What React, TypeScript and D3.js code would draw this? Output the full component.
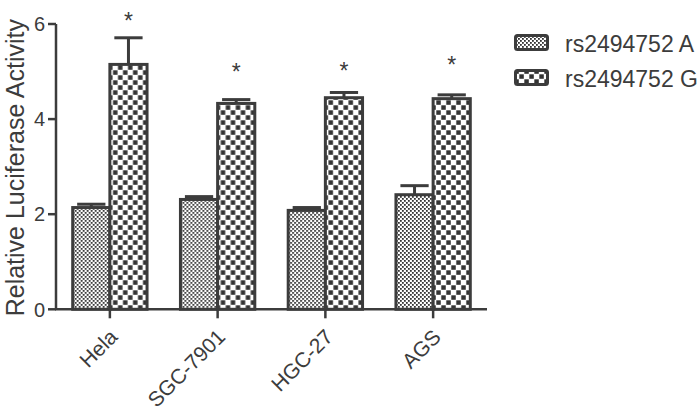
import React from "react";
import * as d3 from "d3";

const categories = ["Hela", "SGC-7901", "HGC-27", "AGS"];
const seriesNames = ["rs2494752 A", "rs2494752 G"];
const meanA = [2.14, 2.31, 2.08, 2.41];
const errA = [0.07, 0.06, 0.06, 0.19];
const meanG = [5.15, 4.33, 4.45, 4.43];
const errG = [0.56, 0.08, 0.11, 0.08];
const starLevels = [5.9, 4.83, 4.85, 4.96];
const yTicks = [0, 2, 4, 6];
const yLabel = "Relative Luciferase Activity";

const INK = "#3c3c3c";
const FONT = "'Liberation Sans', Arial, Helvetica, sans-serif";

export default function App() {
  const W = 700, H = 411;
  const x0 = d3.scaleBand<string>().domain(categories).range([56, 487]).paddingInner(0.31).paddingOuter(0.155);
  const x1 = d3.scaleBand<string>().domain(seriesNames).range([0, x0.bandwidth()]);
  const y = d3.scaleLinear().domain([0, 6]).range([309.3, 24]);
  const series = [
    { name: seriesNames[0], mean: meanA, err: errA, fill: "url(#patA)" },
    { name: seriesNames[1], mean: meanG, err: errG, fill: "url(#patG)" },
  ];
  const capW = x1.bandwidth() * 0.76;

  return (
    <svg width={W} height={H} style={{ position: "absolute", left: 0, top: 0, background: "#fff" }} fontFamily={FONT}>
      <defs>
        <pattern id="patA" patternUnits="userSpaceOnUse" width={4} height={4}>
          <rect width={4} height={4} fill="#fff" />
          <rect x={0} y={0} width={1.8} height={1.8} fill="#333" />
          <rect x={2} y={2} width={1.8} height={1.8} fill="#333" />
        </pattern>
        <pattern id="patG" patternUnits="userSpaceOnUse" width={10} height={10}>
          <rect width={10} height={10} fill="#fff" />
          <rect x={0.3} y={0.3} width={4.5} height={4.5} fill="#333" />
          <rect x={5.3} y={5.3} width={4.5} height={4.5} fill="#333" />
        </pattern>
      </defs>

      {/* bars */}
      {categories.map((c, i) => (
        <g key={c} transform={`translate(${x0(c)},0)`}>
          {series.map((s) => {
            const bx = x1(s.name)!;
            const bw = x1.bandwidth();
            const top = y(s.mean[i]);
            const cap = y(s.mean[i] + s.err[i]);
            const cx = bx + bw / 2;
            return (
              <g key={s.name}>
                <line x1={cx} x2={cx} y1={top} y2={cap} stroke={INK} strokeWidth={3} />
                <line x1={cx - capW / 2} x2={cx + capW / 2} y1={cap} y2={cap} stroke={INK} strokeWidth={3} />
                <rect x={bx} y={top} width={bw} height={y(0) - top} fill={s.fill} stroke={INK} strokeWidth={3} />
              </g>
            );
          })}
          <text
            x={x1(seriesNames[1])! + x1.bandwidth() / 2}
            y={y(starLevels[i])}
            textAnchor="middle"
            fontSize={23}
            fill={INK}
          >
            *
          </text>
        </g>
      ))}

      {/* y axis */}
      <line x1={56} x2={56} y1={y(6)} y2={y(0)} stroke={INK} strokeWidth={2.5} />
      {yTicks.map((t) => (
        <g key={t}>
          <line x1={48} x2={56} y1={y(t)} y2={y(t)} stroke={INK} strokeWidth={2.5} />
          <text x={45} y={y(t)} dy="0.36em" textAnchor="end" fontSize={20} fill={INK}>
            {t}
          </text>
        </g>
      ))}
      <text
        transform={`translate(24,${(y(0) + y(6)) / 2 + 1}) rotate(-90)`}
        textAnchor="middle"
        fontSize={25}
        fill={INK}
      >
        {yLabel}
      </text>

      {/* x axis */}
      <line x1={55} x2={487} y1={y(0)} y2={y(0)} stroke={INK} strokeWidth={2.5} />
      {categories.map((c) => {
        const cx = x0(c)! + x0.bandwidth() / 2;
        return (
          <g key={c}>
            <line x1={cx} x2={cx} y1={y(0)} y2={y(0) + 9} stroke={INK} strokeWidth={2.5} />
            <text
              transform={`translate(${cx + 9},${y(0) + 29}) rotate(-45)`}
              textAnchor="end"
              fontSize={21}
              fill={INK}
            >
              {c}
            </text>
          </g>
        );
      })}

      {/* legend */}
      {series.map((s, i) => (
        <g key={s.name} transform={`translate(514,${34 + i * 35})`}>
          <rect x={1.5} y={1.5} width={32} height={14} rx={2} fill={s.fill} stroke={INK} strokeWidth={3} />
          <text x={51} y={17.5} fontSize={23} fill={INK}>
            {s.name}
          </text>
        </g>
      ))}
    </svg>
  );
}
